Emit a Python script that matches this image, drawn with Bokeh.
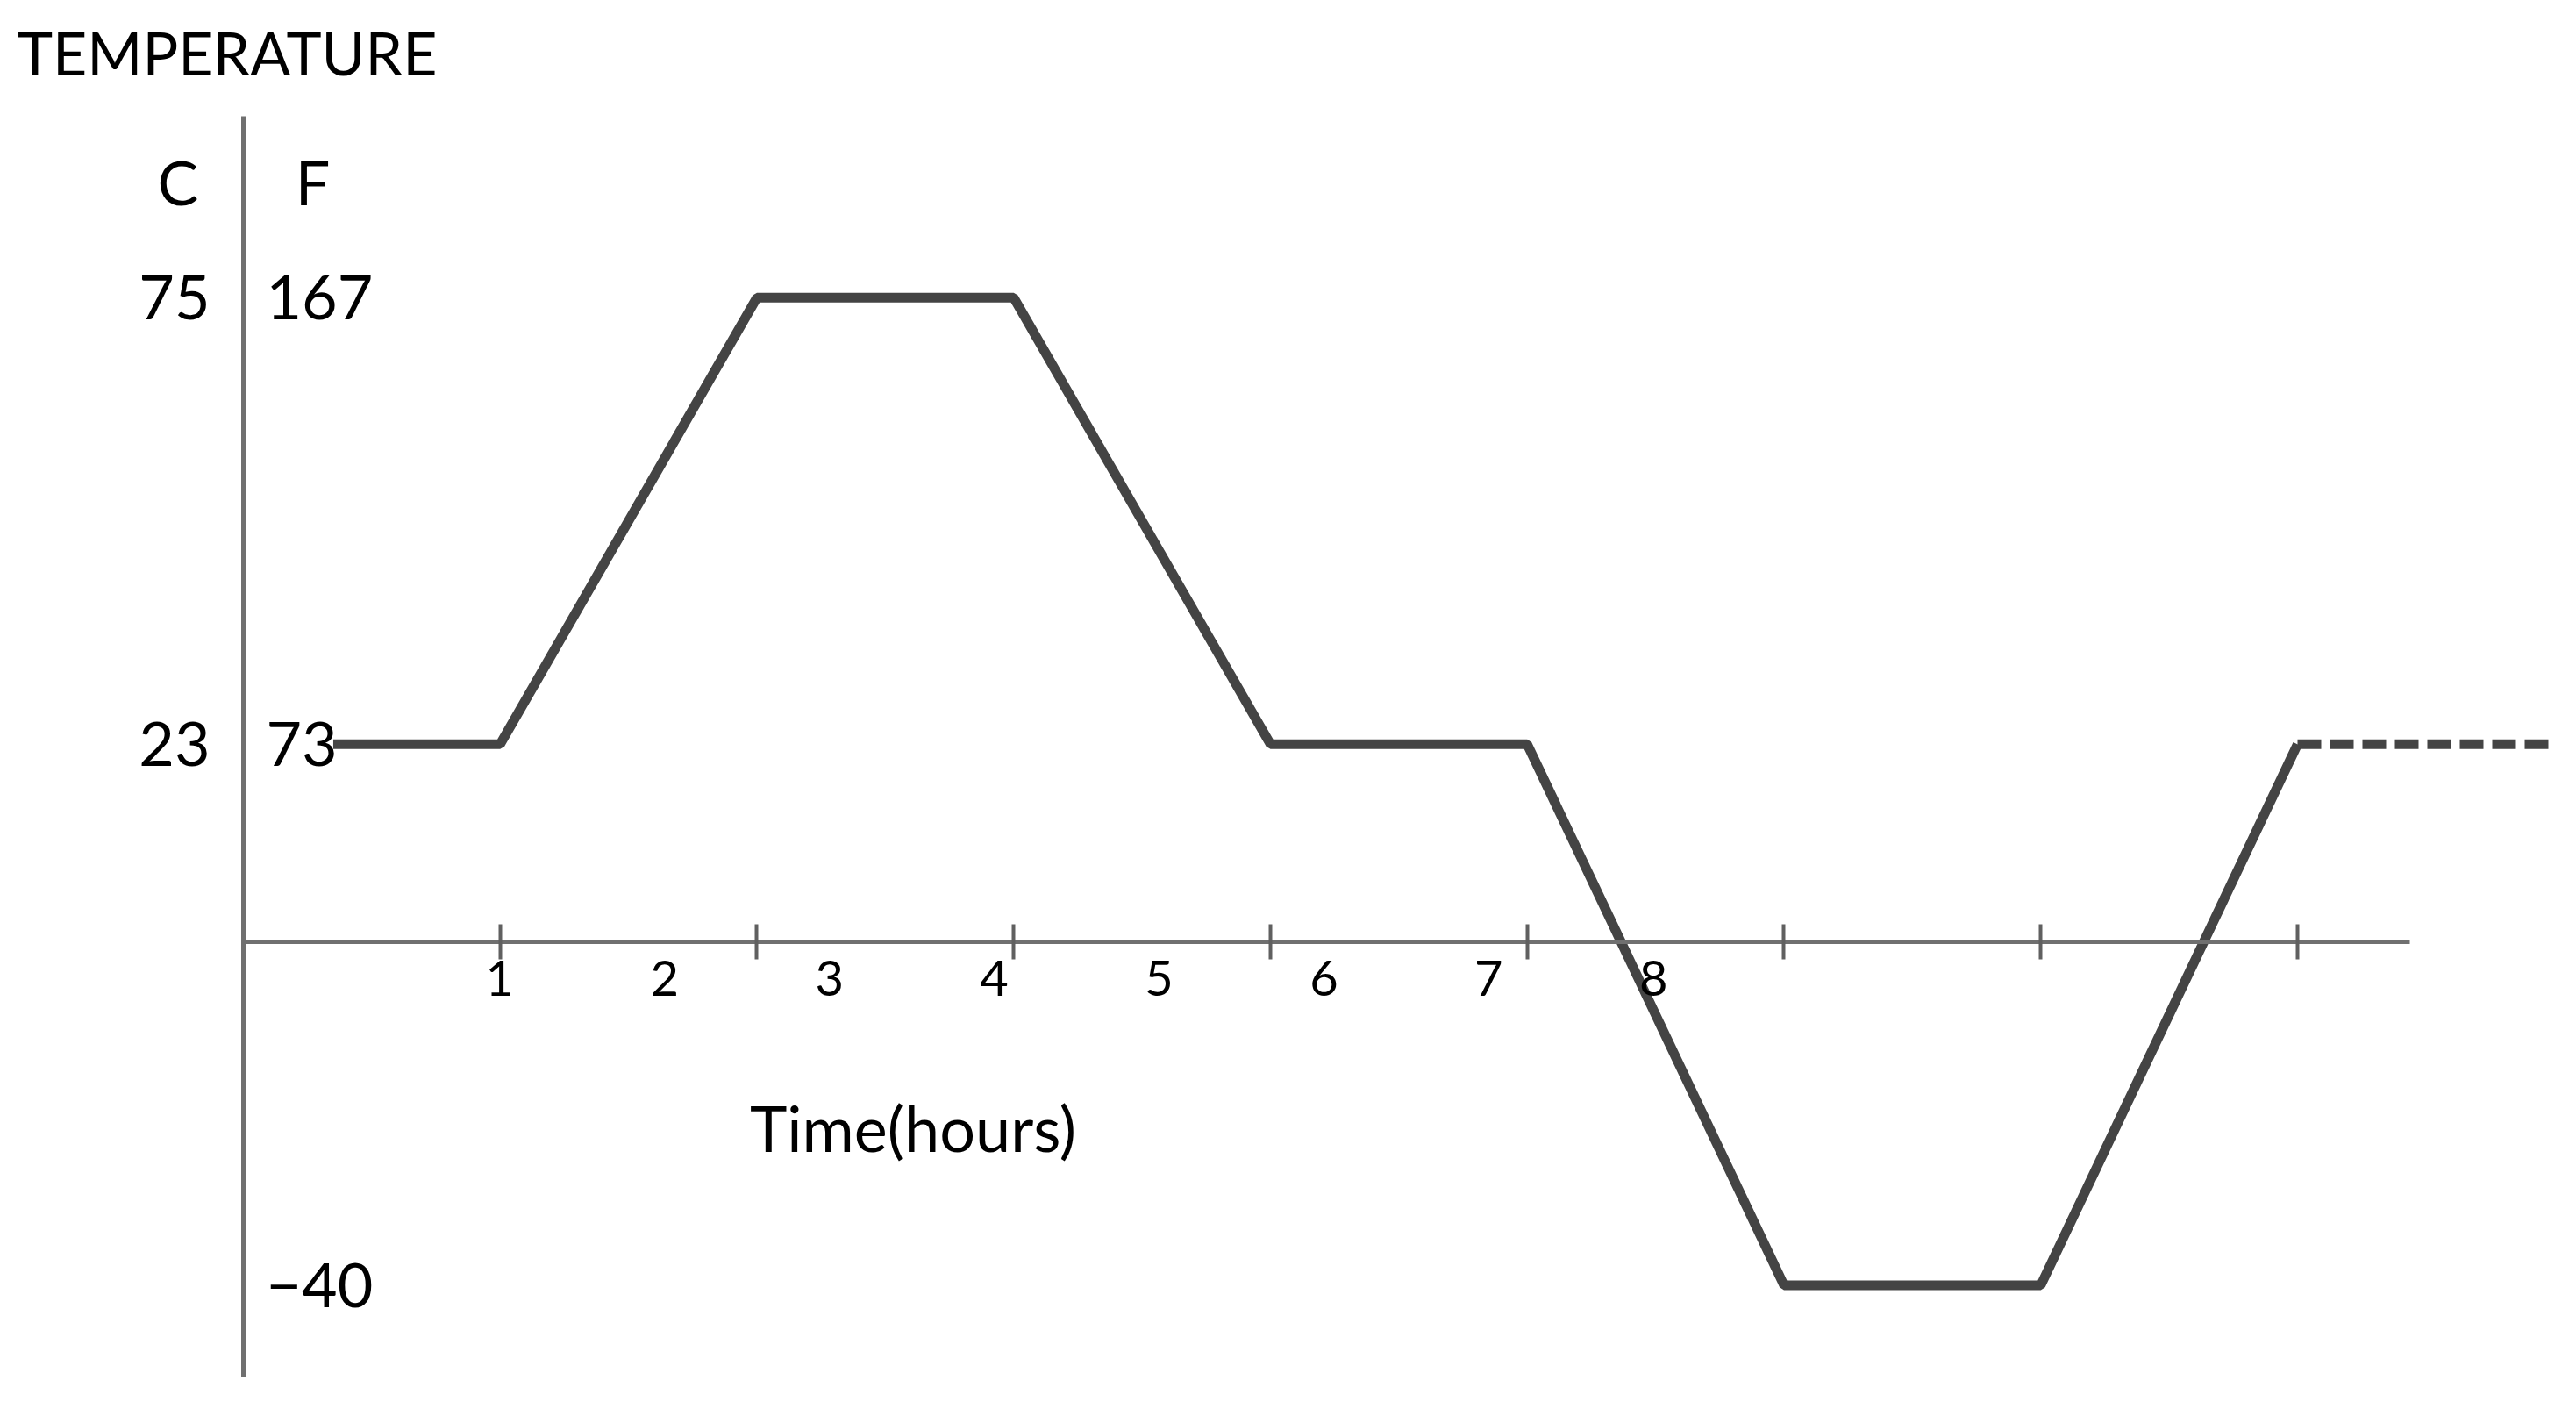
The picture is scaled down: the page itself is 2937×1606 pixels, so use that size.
from bokeh.plotting import figure
from bokeh.models import Range1d, LinearAxis, FixedTicker, Label
from bokeh.embed import file_html
from bokeh.resources import INLINE

# ---- data ----
hours = [0.35, 1, 2, 3, 4, 5, 6, 7, 8]
temp_c = [23, 23, 75, 75, 23, 23, -40, -40, 23]
cont_hours = [8, 9]
cont_temp_c = [23, 23]

hour_ticks = [1, 2, 3, 4, 5, 6, 7, 8]
hour_labels = ["1", "2", "3", "4", "5", "6", "7", "8"]
c_ticks = [75, 23]
c_labels = ["75", "23"]
f_ticks = [75, 23, -40]               # positions in degrees C
f_labels = ["167", "73", "\u221240"]  # Fahrenheit equivalents

FONT = "Lato"
LINE_COL = "#444444"
AXIS_COL = "#707070"

p = figure(frame_width=2921, frame_height=1590,
           x_range=Range1d(-0.9462, 9.0316), y_range=Range1d(-52.82, 109.61),
           x_axis_location=None, y_axis_location=None,
           output_backend="svg", toolbar_location=None,
           min_border_left=0, min_border_top=0,
           min_border_right=0, min_border_bottom=0)
p.grid.visible = False
p.outline_line_color = None
p.background_fill_color = "white"
p.border_fill_color = "white"

# Celsius axis: the vertical line at hour 0, labels on its left
c_axis = LinearAxis(fixed_location=0, bounds=(-50.67, 96.13),
                    ticker=FixedTicker(ticks=c_ticks),
                    major_label_overrides=dict(zip(c_ticks, c_labels)),
                    major_tick_in=0, major_tick_out=0,
                    axis_line_color=AXIS_COL, axis_line_width=5,
                    major_label_standoff=38,
                    major_label_text_font=FONT,
                    major_label_text_font_size="70px",
                    major_label_text_color="black")
p.add_layout(c_axis, "left")

# Fahrenheit labels just right of the vertical line
f_axis = LinearAxis(fixed_location=0, ticker=FixedTicker(ticks=f_ticks),
                    major_label_overrides=dict(zip(f_ticks, f_labels)),
                    major_tick_in=0, major_tick_out=0,
                    axis_line_color=None,
                    major_label_standoff=26,
                    major_label_text_font=FONT,
                    major_label_text_font_size="70px",
                    major_label_text_color="black")
p.add_layout(f_axis, "right")

# Time axis line with ticks, drawn at 0 C
t_axis = LinearAxis(fixed_location=0, bounds=(0, 8.437),
                    ticker=FixedTicker(ticks=hour_ticks),
                    major_label_overrides={t: "" for t in hour_ticks},
                    major_tick_in=20, major_tick_out=20,
                    major_tick_line_width=4, major_tick_line_color="#606060",
                    axis_line_color=AXIS_COL, axis_line_width=5)
p.add_layout(t_axis, "below")

# Hour numbers (hand-placed spacing in the original)
p.extra_x_ranges = {"lab": Range1d(-2.0298, 13.515)}
lab_axis = LinearAxis(x_range_name="lab", fixed_location=0,
                      ticker=FixedTicker(ticks=hour_ticks),
                      major_label_overrides=dict(zip(hour_ticks, hour_labels)),
                      major_tick_in=0, major_tick_out=0,
                      axis_line_color=None,
                      major_label_standoff=22,
                      major_label_text_font=FONT,
                      major_label_text_font_size="56px",
                      major_label_text_color="black")
p.add_layout(lab_axis, "below")

# temperature profile
p.line(hours, temp_c, line_color=LINE_COL, line_width=11)
p.line(cont_hours, cont_temp_c, line_color=LINE_COL, line_width=11, line_dash="27 10")

# texts
for txt, x, y, align, size in [("TEMPERATURE", -0.880, 103.6, "left", "68px"),
                               ("C", -0.255, 88.5, "center", "70px"),
                               ("F", 0.270, 88.5, "center", "70px"),
                               ("Time(hours)", 2.608, -21.6, "center", "72px")]:
    p.add_layout(Label(x=x, y=y, text=txt, text_font=FONT, text_font_size=size,
                       text_color="black", text_align=align, text_baseline="middle"))

open("out.html", "w").write(file_html(p, INLINE))
